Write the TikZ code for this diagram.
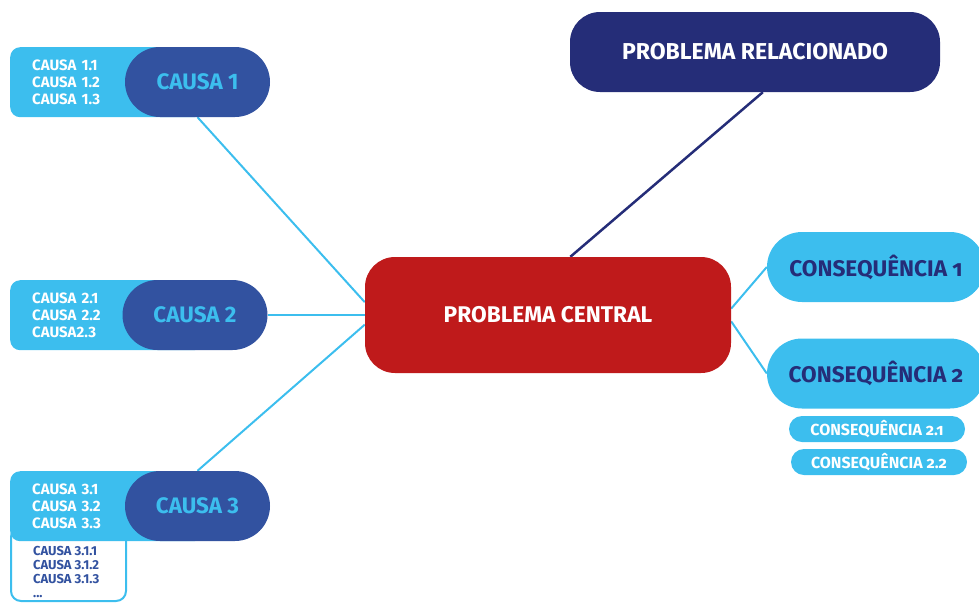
\documentclass[tikz,border=0pt]{standalone}
\usepackage{fontspec}
\setmainfont{Fira Sans}
\newfontfamily\consfont[Numbers=OldStyle]{Fira Sans}
\usetikzlibrary{backgrounds}
\definecolor{lightblue}{HTML}{3CBEEE}
\definecolor{causeblue}{HTML}{3252A0}
\definecolor{navy}{HTML}{252D78}
\definecolor{redbox}{HTML}{BF1A1B}
\tikzset{
  pill/.style={fill=causeblue, text=lightblue, minimum width=145pt, minimum height=70pt,
    rounded corners=35pt, font=\bfseries\fontsize{22.4}{26}\selectfont},
  sublist/.style={anchor=north west, fill=lightblue, text=white, rounded corners=10pt,
    minimum height=70pt, text width=150pt, inner xsep=22pt, inner ysep=0pt, align=left,
    font=\bfseries\fontsize{15}{17.4}\selectfont},
  subbox/.style={anchor=north west, draw=lightblue, line width=2pt, fill=white,
    rounded corners=10pt, minimum width=115pt, minimum height=74pt},
  subsubtext/.style={anchor=north west, text=causeblue, inner sep=0pt, align=left,
    font=\bfseries\fontsize{13}{14}\selectfont},
  cons/.style={fill=lightblue, text=navy, minimum width=218pt, minimum height=70pt,
    rounded corners=35pt, font=\consfont\bfseries\fontsize{22.6}{26}\selectfont},
  subcons/.style={fill=lightblue, text=white, minimum width=176pt, minimum height=26pt,
    rounded corners=13pt, font=\consfont\bfseries\fontsize{16}{18}\selectfont},
  central/.style={fill=redbox, text=white, minimum width=366pt, minimum height=116pt,
    rounded corners=30pt, font=\bfseries\fontsize{22.7}{26}\selectfont},
  related/.style={fill=navy, text=white, minimum width=370pt, minimum height=80pt,
    rounded corners=30pt, font=\bfseries\fontsize{23}{26}\selectfont},
  cline/.style={draw=lightblue, line width=2pt},
}
\begin{document}
\begin{tikzpicture}[x=1pt, y=-1pt]
\useasboundingbox (0,0) rectangle (979,603);

% central problem and related problem
\node[central] (central) at (548,315) {PROBLEMA CENTRAL};
\node[related] (rel) at (755,52) {PROBLEMA RELACIONADO};

% causes
\node[sublist] (c1sub) at (10,47) {CAUSA 1.1\\CAUSA 1.2\\CAUSA 1.3};
\node[pill] (c1) at (197.5,82) {CAUSA 1};
\node[sublist] (c2sub) at (10,280) {CAUSA 2.1\\CAUSA 2.2\\CAUSA2.3};
\node[pill] (c2) at (195,315) {CAUSA 2};
\node[subbox] (c3box) at (10,526) {};
\node[subsubtext] (c3subsub) at (33,546) {CAUSA 3.1.1\\CAUSA 3.1.2\\CAUSA 3.1.3\\...};
\node[sublist] (c3sub) at (10,471) {CAUSA 3.1\\CAUSA 3.2\\CAUSA 3.3};
\node[pill] (c3) at (197.5,506) {CAUSA 3};

% consequences
\node[cons] (q1) at (876,267) {CONSEQUÊNCIA 1};
\node[cons] (q2) at (876,373.5) {CONSEQUÊNCIA 2};
\node[subcons] (q21) at (877,429) {CONSEQUÊNCIA 2.1};
\node[subcons] (q22) at (879,462) {CONSEQUÊNCIA 2.2};

\begin{scope}[on background layer]
\draw[cline] (c1.south) -- (central.176);
\draw[cline] (c2.east) -- (central.west);
\draw[cline] (c3.north) -- (central.183);
\draw[cline] (central.2) -- (q1.west);
\draw[cline] (central.358) -- (q2.west);
\draw[navy, line width=2.5pt] (rel.281) -- (central.69.5);
\end{scope}
\end{tikzpicture}
\end{document}
